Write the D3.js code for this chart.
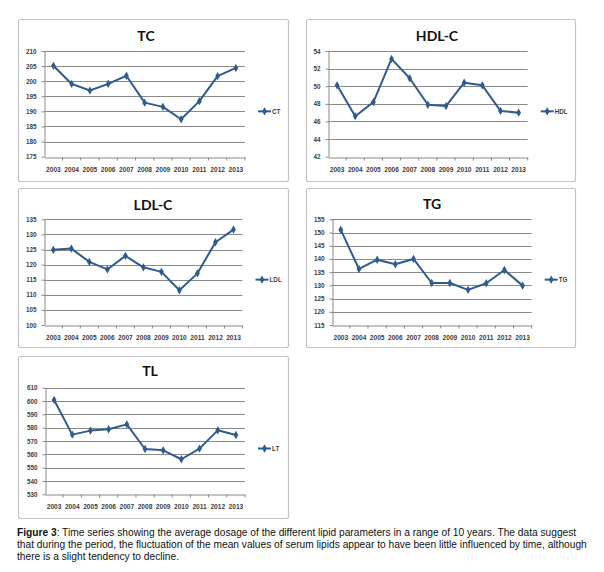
<!DOCTYPE html>
<html>
<head>
<meta charset="utf-8">
<script src="https://cdn.jsdelivr.net/npm/d3@7/dist/d3.min.js"></script>
<style>
html,body{margin:0;padding:0;background:#fff;}
svg{display:block;}
</style>
</head>
<body>
<svg id="chart" width="604" height="572"></svg>
<script>
// ---- data ----
const years = ["2003","2004","2005","2006","2007","2008","2009","2010","2011","2012","2013"];
const tcValues  = [205.1,199.1,196.9,199.1,201.8,192.9,191.5,187.4,193.4,201.7,204.4];
const hdlValues = [50.1,46.6,48.2,53.1,50.9,47.9,47.75,50.4,50.1,47.2,47.0];
const ldlValues = [124.9,125.3,120.9,118.4,122.9,119.1,117.6,111.5,117.1,127.4,131.6];
const tgValues  = [151.0,136.2,139.7,138.0,140.0,130.9,130.9,128.3,130.8,135.8,129.9];
const tlValues  = [600.8,574.8,577.8,578.8,582.5,564.0,563.0,556.3,564.3,578.0,574.5];
const tcTicks  = [175,180,185,190,195,200,205,210];
const hdlTicks = [42,44,46,48,50,52,54];
const ldlTicks = [100,105,110,115,120,125,130,135];
const tgTicks  = [115,120,125,130,135,140,145,150,155];
const tlTicks  = [530,540,550,560,570,580,590,600,610];
const titles = ["TC","HDL-C","LDL-C","TG","TL"];
const seriesNames = ["CT","HDL","LDL","TG","LT"];
const captionBold = "Figure 3";
const captionLines = [
  ": Time series showing the average dosage of the different lipid parameters in a range of 10 years. The data suggest",
  "that during the period, the fluctuation of the mean values of serum lipids appear to have been little influenced by time, although",
  "there is a slight tendency to decline."
];

const panels = [
  {values: tcValues,  ticks: tcTicks,  frame:[18,19,270,162],  plot:[44.3,51,245,156.7],   titleX:146, titleY:41},
  {values: hdlValues, ticks: hdlTicks, frame:[306,19,269,162], plot:[328,51,527.7,156.7],  titleX:437, titleY:41},
  {values: ldlValues, ticks: ldlTicks, frame:[18,188,270,159], plot:[44.3,219.3,242.5,325], titleX:153, titleY:210},
  {values: tgValues,  ticks: tgTicks,  frame:[306,188,269,159], plot:[331.7,219.3,531.7,325], titleX:432, titleY:209},
  {values: tlValues,  ticks: tlTicks,  frame:[18,356,270,162], plot:[45,387.7,245,494.3],   titleX:150, titleY:376}
];

const svg = d3.select("#chart");
const lineColor = "#2e5c90";
const gridColor = "#8a8a8a";
const textColor = "#404040";
const diamond = d3.symbol().type(d3.symbolDiamond).size(20);

panels.forEach((p, i) => {
  const [fx, fy, fw, fh] = p.frame;
  const [x0, y0, x1, y1] = p.plot;
  const g = svg.append("g");

  g.append("rect").attr("x", fx + 0.5).attr("y", fy + 0.5)
    .attr("width", fw).attr("height", fh)
    .attr("rx", 2).attr("fill", "#fff")
    .attr("stroke", "#c4c4c4").attr("stroke-width", 1.2);

  const x = d3.scaleBand().domain(years).range([x0, x1]);
  const y = d3.scaleLinear().domain(d3.extent(p.ticks)).range([y1, y0]);

  // gridlines
  g.append("g").selectAll("line").data(p.ticks.slice(1)).join("line")
    .attr("x1", x0).attr("x2", x1)
    .attr("y1", d => Math.round(y(d)) + 0.5).attr("y2", d => Math.round(y(d)) + 0.5)
    .attr("stroke", gridColor).attr("stroke-width", 1);

  // y axis
  const ya = g.append("g").attr("transform", `translate(${Math.round(x0)+0.5},0)`)
    .call(d3.axisLeft(y).tickValues(p.ticks).tickSize(3).tickSizeOuter(0).tickPadding(5));
  ya.select(".domain").attr("stroke", gridColor);
  ya.selectAll(".tick line").attr("stroke", gridColor);
  ya.selectAll(".tick text").attr("fill", textColor)
    .style("font-family", "'Liberation Sans', Arial, sans-serif")
    .style("font-size", "6.3px").style("font-weight", "bold");

  // x axis
  const xa = g.append("g").attr("transform", `translate(0,${Math.round(y1)+0.5})`)
    .call(d3.axisBottom(x).tickSize(0).tickSizeOuter(0).tickPadding(10));
  xa.select(".domain").attr("stroke", gridColor);
  xa.selectAll(".tick text").attr("fill", textColor)
    .style("font-family", "'Liberation Sans', Arial, sans-serif")
    .style("font-size", "6.6px").style("font-weight", "bold");
  // boundary tick marks
  g.append("g").selectAll("line").data(years.slice(1).concat(["__end"])).join("line")
    .attr("x1", d => d === "__end" ? x1 : x(d)).attr("x2", d => d === "__end" ? x1 : x(d))
    .attr("y1", Math.round(y1) + 0.5).attr("y2", Math.round(y1) + 3.5)
    .attr("stroke", gridColor);

  // line
  const line = d3.line().x((d, k) => x(years[k]) + x.bandwidth() / 2).y(d => y(d));
  g.append("path").datum(p.values).attr("d", line)
    .attr("fill", "none").attr("stroke", lineColor).attr("stroke-width", 2)
    .attr("stroke-linejoin", "round");
  g.append("g").selectAll("path").data(p.values).join("path")
    .attr("d", diamond)
    .attr("transform", (d, k) => `translate(${x(years[k]) + x.bandwidth() / 2},${y(d)})`)
    .attr("fill", lineColor);

  // title
  g.append("text").attr("x", p.titleX).attr("y", p.titleY)
    .attr("text-anchor", "middle")
    .style("font-family", "Lato, 'Open Sans', sans-serif")
    .style("font-size", "14px").style("font-weight", "bold")
    .attr("fill", "#111").text(titles[i]);

  // legend
  const ly = (y0 + y1) / 2 + 7.5;
  const lx = x1 + 13;
  g.append("line").attr("x1", lx).attr("x2", lx + 13).attr("y1", ly).attr("y2", ly)
    .attr("stroke", lineColor).attr("stroke-width", 2);
  g.append("path").attr("d", diamond).attr("transform", `translate(${lx + 6.5},${ly})`).attr("fill", lineColor);
  g.append("text").attr("x", lx + 14).attr("y", ly + 2.2)
    .style("font-family", "'Liberation Sans', Arial, sans-serif")
    .style("font-size", "6.3px").style("font-weight", "bold")
    .attr("fill", textColor).text(seriesNames[i]);
});

// caption
const cap = svg.append("g")
  .style("font-family", "'Liberation Sans', Arial, sans-serif")
  .style("font-size", "10.2px").attr("fill", "#111");
captionLines.forEach((t, i) => {
  const tx = cap.append("text").attr("x", 17).attr("y", 536 + i * 12);
  if (i === 0) {
    tx.append("tspan").style("font-weight", "bold").text(captionBold);
  }
  tx.append("tspan").text(t);
});
</script>
</body>
</html>
